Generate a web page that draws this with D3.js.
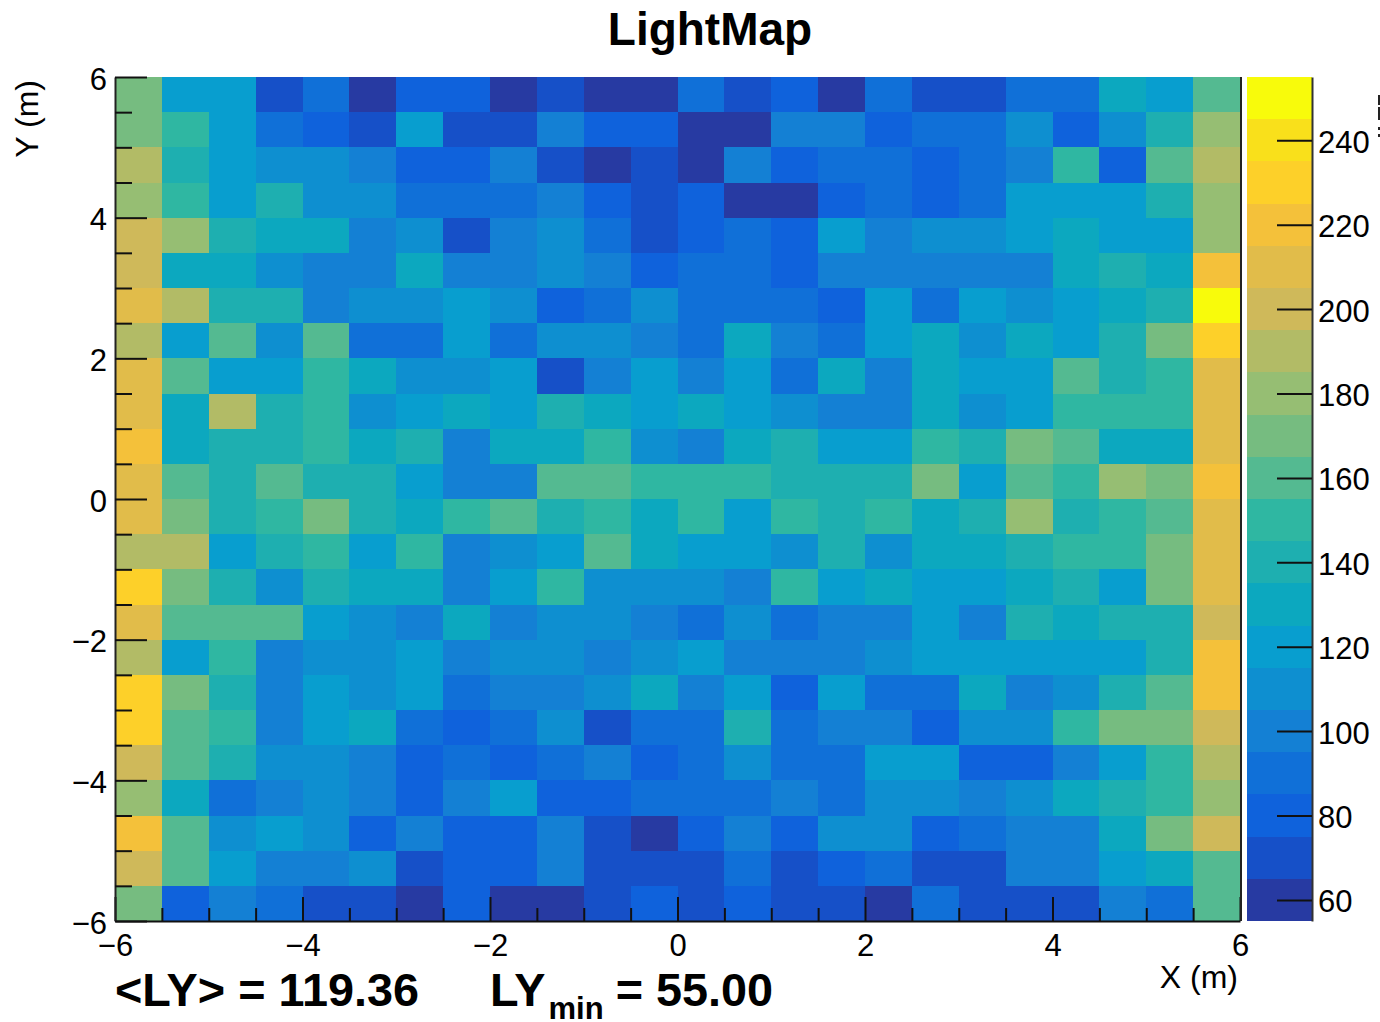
<!DOCTYPE html>
<html lang="en">
<head>
  <meta charset="UTF-8">
  <title>LightMap</title>
  <script src="https://d3js.org/d3.v7.min.js"></script>
  <style>
    html, body { margin: 0; padding: 0; background: white; }
    svg { display: block; }
    text { font-family: "Liberation Sans", Arial, sans-serif; fill: black; }
    .tick text { font-size: 31px; }
    .axis-title { font-size: 32px; }
    .title { font-size: 46px; font-weight: bold; }
    .stat { font-size: 46.8px; font-weight: bold; }
    .stat .sub { font-size: 31px; }
  </style>
</head>
<body>
  <div id="chart"></div>

  <script>
    // bin edges run -6..6 in 0.5 m steps, rows go top (y=6) to bottom (y=-6)
    const xEdges = [-6, -5.5, -5, -4.5, -4, -3.5, -3, -2.5, -2, -1.5, -1, -0.5, 0, 0.5, 1, 1.5, 2, 2.5, 3, 3.5, 4, 4.5, 5, 5.5];
    const yEdges = [5.5, 5, 4.5, 4, 3.5, 3, 2.5, 2, 1.5, 1, 0.5, 0, -0.5, -1, -1.5, -2, -2.5, -3, -3.5, -4, -4.5, -5, -5.5, -6];

    const lightYield = [
      [170, 120, 120, 70, 90, 60, 80, 80, 60, 70, 60, 60, 90, 70, 80, 60, 90, 70, 70, 90, 90, 130, 120, 160],
      [170, 150, 120, 90, 80, 70, 120, 70, 70, 100, 80, 80, 60, 60, 100, 100, 80, 90, 90, 110, 80, 110, 140, 180],
      [190, 140, 120, 110, 110, 100, 80, 80, 100, 70, 60, 70, 60, 100, 80, 90, 90, 80, 90, 100, 150, 80, 160, 190],
      [180, 150, 120, 140, 110, 110, 90, 90, 90, 100, 80, 70, 80, 60, 60, 80, 90, 80, 90, 120, 120, 120, 140, 180],
      [200, 180, 140, 130, 130, 100, 110, 70, 100, 110, 90, 70, 80, 90, 80, 120, 100, 110, 110, 120, 130, 120, 120, 180],
      [200, 130, 130, 110, 100, 100, 130, 100, 100, 110, 100, 80, 90, 90, 80, 100, 100, 100, 100, 100, 130, 140, 130, 220],
      [210, 190, 140, 140, 100, 110, 110, 120, 110, 80, 90, 110, 90, 90, 90, 80, 120, 90, 120, 110, 120, 130, 140, 250],
      [190, 120, 160, 110, 160, 90, 90, 120, 90, 110, 110, 100, 90, 130, 100, 90, 120, 130, 110, 130, 120, 140, 170, 230],
      [210, 160, 120, 120, 150, 130, 110, 110, 120, 70, 100, 120, 100, 120, 90, 130, 100, 130, 120, 120, 160, 140, 150, 210],
      [210, 130, 190, 140, 150, 110, 120, 130, 120, 140, 130, 120, 130, 120, 110, 100, 100, 130, 110, 120, 150, 150, 150, 210],
      [220, 130, 140, 140, 150, 130, 140, 100, 130, 130, 150, 110, 100, 130, 140, 120, 120, 150, 140, 170, 160, 130, 130, 210],
      [210, 160, 140, 160, 140, 140, 120, 100, 100, 160, 160, 150, 150, 150, 140, 140, 140, 170, 120, 160, 150, 180, 170, 220],
      [210, 170, 140, 150, 170, 140, 130, 150, 160, 140, 150, 130, 150, 120, 150, 140, 150, 130, 140, 180, 140, 150, 160, 210],
      [190, 190, 120, 140, 150, 120, 150, 100, 110, 120, 160, 130, 120, 120, 110, 140, 110, 130, 130, 140, 150, 150, 170, 210],
      [230, 170, 140, 110, 140, 130, 130, 100, 120, 150, 110, 110, 110, 100, 150, 120, 130, 120, 120, 130, 140, 120, 170, 210],
      [210, 160, 160, 160, 120, 110, 100, 130, 100, 110, 110, 100, 90, 110, 90, 100, 100, 120, 100, 140, 130, 140, 140, 200],
      [190, 120, 150, 100, 110, 110, 120, 100, 110, 110, 100, 110, 120, 100, 100, 100, 110, 120, 120, 120, 120, 120, 140, 220],
      [230, 170, 140, 100, 120, 110, 120, 90, 100, 100, 110, 130, 100, 120, 80, 120, 90, 90, 130, 100, 110, 140, 160, 220],
      [230, 160, 150, 100, 120, 130, 90, 80, 90, 110, 70, 90, 90, 140, 90, 100, 100, 80, 110, 110, 150, 170, 170, 200],
      [200, 160, 140, 110, 110, 100, 80, 90, 80, 90, 100, 80, 90, 110, 90, 90, 120, 120, 80, 80, 100, 120, 150, 190],
      [180, 130, 90, 100, 110, 100, 80, 100, 120, 80, 80, 90, 90, 90, 100, 90, 110, 110, 100, 110, 130, 140, 150, 180],
      [220, 160, 110, 120, 110, 80, 100, 80, 80, 100, 70, 60, 80, 100, 80, 110, 110, 80, 90, 100, 100, 130, 170, 200],
      [200, 160, 120, 100, 100, 110, 70, 80, 80, 100, 70, 70, 70, 90, 70, 80, 90, 70, 70, 100, 100, 120, 130, 160],
      [170, 80, 100, 90, 70, 70, 60, 80, 60, 60, 70, 80, 70, 80, 70, 70, 60, 90, 70, 70, 70, 100, 90, 160]
    ];

    const axisTicks = [-6, -4, -2, 0, 2, 4, 6];
    const minorTicks = [-5.5, -5, -4.5, -3.5, -3, -2.5, -1.5, -1, -0.5, 0.5, 1, 1.5, 2.5, 3, 3.5, 4.5, 5, 5.5];
    const paletteTicks = [60, 80, 100, 120, 140, 160, 180, 200, 220, 240];
    const paletteEdges = [55, 65, 75, 85, 95, 105, 115, 125, 135, 145, 155, 165, 175, 185, 195, 205, 215, 225, 235, 245];
    const palette = ["#273aa2", "#1650c8", "#0f62dc", "#1070d8", "#1480d4", "#0e8fd0", "#089ecf", "#0ca8bf",
      "#1eafb0", "#2fb7a2", "#54ba91", "#76bc80", "#96be73", "#b2bb66", "#cfb95a", "#e1bc4a",
      "#f4c13a", "#fdd029", "#f9e01b", "#f8fb0b"];

    const width = 1380;
    const height = 1022;
    const plot = { left: 115, right: 1240, top: 77, bottom: 921 };
    const bar = { left: 1247, right: 1312 };

    const svg = d3.select("#chart")
      .append("svg")
      .attr("width", width)
      .attr("height", height);

    const x = d3.scaleLinear().domain([-6, 6]).range([plot.left, plot.right]);
    const y = d3.scaleLinear().domain([-6, 6]).range([plot.bottom, plot.top]);
    const z = d3.scaleLinear().domain([55, 255]).range([plot.bottom, plot.top]);

    const color = d3.scaleThreshold()
      .domain(paletteEdges.slice(1))
      .range(palette);

    // heat map cells
    svg.append("g")
      .attr("shape-rendering", "crispEdges")
      .selectAll("g")
      .data(lightYield)
      .join("g")
      .each(function(row, r) {
        d3.select(this).selectAll("rect")
          .data(row)
          .join("rect")
          .attr("x", (d, c) => x(xEdges[c]))
          .attr("y", y(yEdges[r] + 0.5))
          .attr("width", x(0.5) - x(0))
          .attr("height", y(0) - y(0.5))
          .attr("fill", d => color(d));
      });

    // palette
    svg.append("g")
      .attr("shape-rendering", "crispEdges")
      .selectAll("rect")
      .data(paletteEdges)
      .join("rect")
      .attr("x", bar.left)
      .attr("y", d => z(d + 10))
      .attr("width", bar.right - bar.left)
      .attr("height", d => z(d) - z(d + 10))
      .attr("fill", d => color(d));

    function styleAxis(g, stroke) {
      g.selectAll("path").attr("stroke", stroke).attr("stroke-width", 2);
      g.selectAll("line").attr("stroke", "#111").attr("stroke-width", 2);
    }

    // x axis
    svg.append("g")
      .attr("transform", `translate(0,${plot.bottom})`)
      .call(d3.axisBottom(x).tickValues(minorTicks).tickSize(-13).tickSizeOuter(0).tickFormat(""))
      .call(g => styleAxis(g, "#111"));
    svg.append("g")
      .attr("transform", `translate(0,${plot.bottom})`)
      .call(d3.axisBottom(x).tickValues(axisTicks).tickSize(-24).tickSizeOuter(0).tickPadding(13))
      .call(g => styleAxis(g, "none"))
      .call(g => g.selectAll(".tick text").attr("fill", "black"));

    // y axis
    svg.append("g")
      .attr("transform", `translate(${plot.left},0)`)
      .call(d3.axisLeft(y).tickValues(minorTicks).tickSize(-17).tickSizeOuter(0).tickFormat(""))
      .call(g => styleAxis(g, "#222"));
    svg.append("g")
      .attr("transform", `translate(${plot.left},0)`)
      .call(d3.axisLeft(y).tickValues(axisTicks).tickSize(-32).tickSizeOuter(0).tickPadding(8))
      .call(g => styleAxis(g, "none"))
      .call(g => g.selectAll(".tick text").attr("fill", "black").attr("dy", "0.39em"));

    // right edge of the frame
    svg.append("line")
      .attr("x1", x(6) + 1).attr("x2", x(6) + 1)
      .attr("y1", y(6)).attr("y2", y(-6))
      .attr("stroke", "#222")
      .attr("stroke-width", 2);

    // palette axis
    svg.append("g")
      .attr("transform", `translate(${bar.right},0)`)
      .call(d3.axisRight(z).tickValues(paletteTicks).tickSize(-35).tickSizeOuter(0).tickPadding(6))
      .call(g => styleAxis(g, "#333"))
      .call(g => g.selectAll(".tick text").attr("fill", "black").attr("dy", "0.39em"));

    // titles
    svg.append("text")
      .attr("class", "title")
      .attr("x", 710)
      .attr("y", 45)
      .attr("text-anchor", "middle")
      .text("LightMap");

    svg.append("text")
      .attr("class", "axis-title")
      .attr("x", 1238)
      .attr("y", 988)
      .attr("text-anchor", "end")
      .text("X (m)");

    svg.append("text")
      .attr("class", "axis-title")
      .attr("transform", "translate(38,80) rotate(-90)")
      .attr("text-anchor", "end")
      .text("Y (m)");

    // stats line
    svg.append("text")
      .attr("class", "stat")
      .attr("x", 115)
      .attr("y", 1006)
      .text("<LY> = 119.36");

    const ly = svg.append("text")
      .attr("class", "stat")
      .attr("x", 490)
      .attr("y", 1006);
    ly.append("tspan").text("LY");
    ly.append("tspan").attr("class", "sub").attr("dy", 13).attr("dx", 3).text("min");
    ly.append("tspan").attr("dy", -13).attr("dx", 12).text("= 55.00");

    // cut off label fragment at the window edge
    svg.append("g")
      .selectAll("rect")
      .data([[95, 10], [107, 13], [127, 3], [134, 3]])
      .join("rect")
      .attr("x", width - 2)
      .attr("y", d => d[0])
      .attr("width", 2)
      .attr("height", d => d[1])
      .attr("fill", "#222");
  </script>
</body>
</html>
